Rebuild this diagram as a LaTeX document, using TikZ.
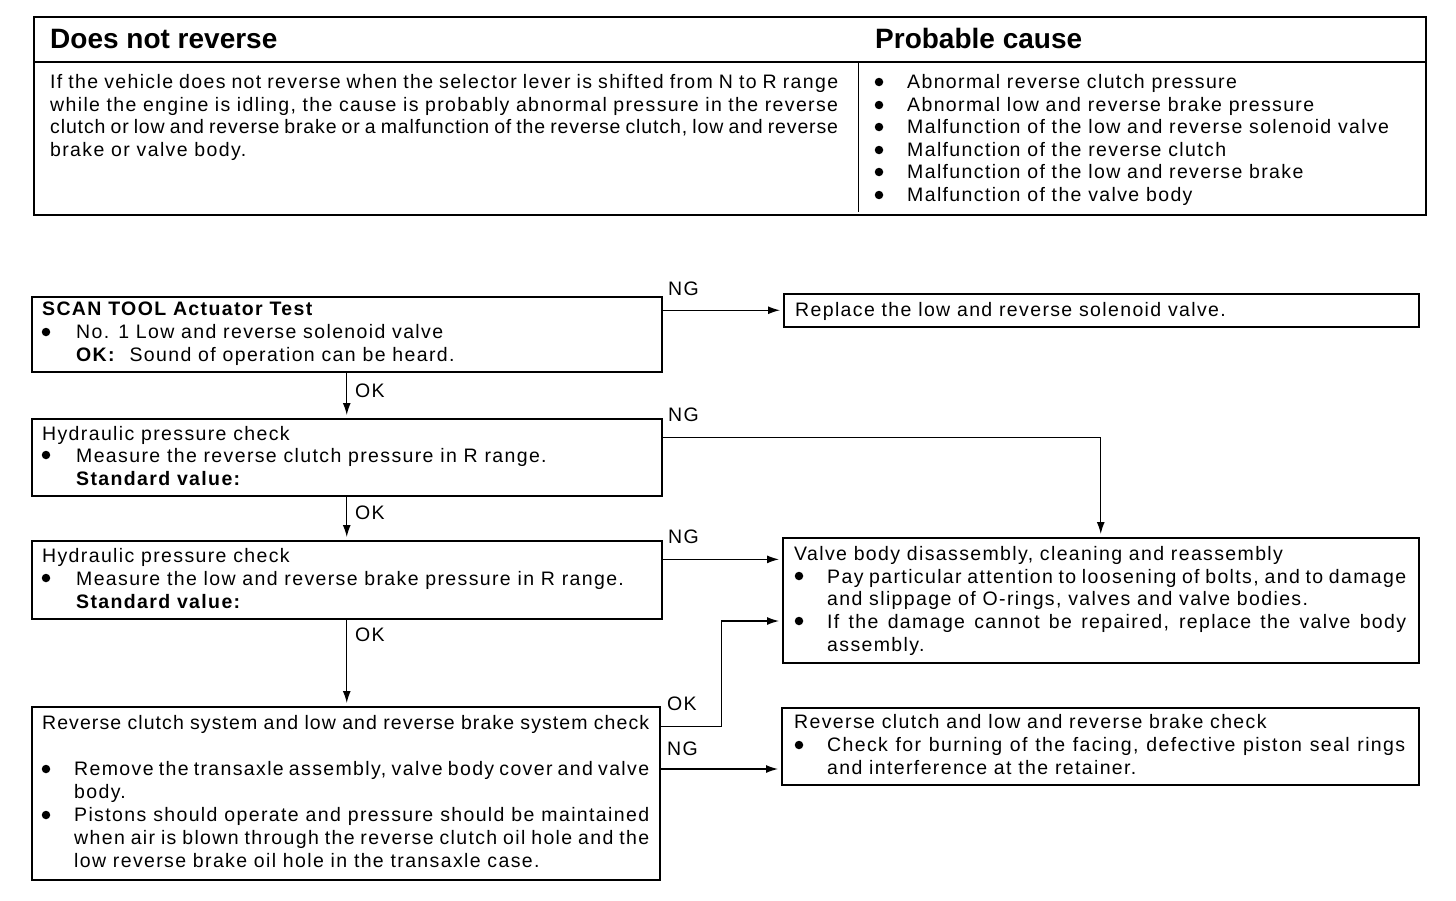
\documentclass[tikz,border=0pt]{standalone}
\usepackage{fontspec}
\setmainfont{Liberation Sans}[LetterSpace=7]
\newfontfamily\headfont{Liberation Sans}
\usetikzlibrary{arrows.meta}
\newcommand\jl[2]{\makebox[#1][s]{#2}}
\begin{document}
\begin{tikzpicture}[x=1pt,y=-1pt,
  t/.style={anchor=base west,inner sep=0pt,font=\fontsize{19.5}{23}\selectfont},
  hd/.style={anchor=base west,inner sep=0pt,font=\headfont\bfseries\fontsize{28}{32}\selectfont},
  box/.style={draw,line width=1.5pt,anchor=north west,inner sep=0pt},
  dot/.style={circle,fill,inner sep=0pt,minimum size=8.5pt},
  arr/.style={line width=1.3pt,-{Latex[length=12pt,width=8pt]},shorten >=3pt},
  lab/.style={anchor=base west,inner sep=0pt,font=\fontsize{19.5}{23}\selectfont}]
\useasboundingbox (0,0) rectangle (1456,900);
% top table
\node[box,line width=2pt,minimum width=1392,minimum height=198] (T) at (33,16) {};
\coordinate (hl) at (0,62);
\draw[line width=1.5pt] (T.west |- hl) -- (T.east |- hl);
\draw[line width=1pt] (858,62) -- (858,212);
\node[hd] (h1) at (50,48) {Does not reverse};
\node[hd] (h2) at (875,48) {Probable cause};
\node[t] (p1) at (50,88) {\jl{788pt}{If the vehicle does not reverse when the selector lever is shifted from N to R range}};
\node[t] (p2) at (50,111) {\jl{788pt}{while the engine is idling, the cause is probably abnormal pressure in the reverse}};
\node[t] (p3) at (50,133) {\addfontfeatures{LetterSpace=4.5}\jl{788pt}{clutch or low and reverse brake or a malfunction of the reverse clutch, low and reverse}};
\node[t] (p4) at (50,156) {brake or valve body.};
\foreach \y/\s [count=\i] in {88/Abnormal reverse clutch pressure,111/Abnormal low and reverse brake pressure,133/Malfunction of the low and reverse solenoid valve,156/Malfunction of the reverse clutch,178/Malfunction of the low and reverse brake,201/Malfunction of the valve body}{
  \node[dot] (cb\i) at (879,\y-6) {};
  \node[t] (c\i) at (907,\y) {\s};
}
% B1
\node[box,minimum width=630,minimum height=75] (B1) at (31,296) {};
\node[t] (b1l1) at (42,315) {\bfseries SCAN TOOL Actuator Test};
\node[dot] (b1b) at (46,332) {};
\node[t] (b1l2) at (76,338) {No. 1 Low and reverse solenoid valve};
\node[t] (b1l3) at (76,361) {\textbf{OK:}\ \ Sound of operation can be heard.};
% R1
\node[box,minimum width=635,minimum height=33] (R1) at (783,293) {};
\node[t] (r1l1) at (795,316) {Replace the low and reverse solenoid valve.};
% B2
\node[box,minimum width=630,minimum height=77] (B2) at (31,418) {};
\node[t] (b2l1) at (42,440) {Hydraulic pressure check};
\node[dot] (b2b) at (46,455) {};
\node[t] (b2l2) at (76,462) {Measure the reverse clutch pressure in R range.};
\node[t] (b2l3) at (76,485) {\bfseries Standard value:};
% B3
\node[box,minimum width=630,minimum height=78] (B3) at (31,540) {};
\node[t] (b3l1) at (42,562) {Hydraulic pressure check};
\node[dot] (b3b) at (46,578) {};
\node[t] (b3l2) at (76,585) {Measure the low and reverse brake pressure in R range.};
\node[t] (b3l3) at (76,608) {\bfseries Standard value:};
% V
\node[box,minimum width=636,minimum height=125] (V) at (782,537) {};
\node[t] (v1) at (794,560) {Valve body disassembly, cleaning and reassembly};
\node[dot] (vb1) at (799,576) {};
\node[t] (v2) at (827,583) {\jl{579pt}{Pay particular attention to loosening of bolts, and to damage}};
\node[t] (v3) at (827,605) {and slippage of O-rings, valves and valve bodies.};
\node[dot] (vb2) at (799,621) {};
\node[t] (v4) at (827,628) {\jl{579pt}{If the damage cannot be repaired, replace the valve body}};
\node[t] (v5) at (827,651) {assembly.};
% B4
\node[box,minimum width=628,minimum height=173] (B4) at (31,706) {};
\node[t] (b4l1) at (42,729) {\addfontfeatures{LetterSpace=5.5}\jl{607pt}{Reverse clutch system and low and reverse brake system check}};
\node[dot] (b4b1) at (46,769) {};
\node[t] (b4l2) at (74,775) {\jl{575pt}{Remove the transaxle assembly, valve body cover and valve}};
\node[t] (b4l3) at (74,798) {body.};
\node[dot] (b4b2) at (46,815) {};
\node[t] (b4l4) at (74,821) {\jl{575pt}{Pistons should operate and pressure should be maintained}};
\node[t] (b4l5) at (74,844) {\jl{575pt}{when air is blown through the reverse clutch oil hole and the}};
\node[t] (b4l6) at (74,867) {low reverse brake oil hole in the transaxle case.};
% R2
\node[box,minimum width=637,minimum height=77] (R2) at (781,707) {};
\node[t] (r2l1) at (794,728) {Reverse clutch and low and reverse brake check};
\node[dot] (r2b) at (799,745) {};
\node[t] (r2l2) at (827,751) {\jl{578pt}{Check for burning of the facing, defective piston seal rings}};
\node[t] (r2l3) at (827,774) {and interference at the retainer.};
% connectors
\draw[arr] (B1.east |- R1.west) -- (R1.west);
\draw[arr] (B1.south) -- (B1.south |- B2.north);
\draw[arr] (B2.east |- b2l1.mid) -| (V.north);
\draw[arr] (B2.south) -- (B2.south |- B3.north);
\draw[arr] (B3.east |- b3l1.mid) -- (V.west |- b3l1.mid);
\draw[arr] (B3.south) -- (B3.south |- B4.north);
\draw[arr] (B4.east |- b4l1.mid) -- ++(61,0) |- (V.west |- vb2);
\draw[arr] (B4.east |- b4b1) -- (R2.west |- b4b1);
% labels
\node[lab] (n1) at (668,295) {NG};
\node[lab] (o1) at (355,397) {OK};
\node[lab] (n2) at (668,421) {NG};
\node[lab] (o2) at (355,519) {OK};
\node[lab] (n3) at (668,543) {NG};
\node[lab] (o3) at (355,641) {OK};
\node[lab] (o4) at (667,710) {OK};
\node[lab] (n4) at (667,755) {NG};
\end{tikzpicture}
\end{document}
